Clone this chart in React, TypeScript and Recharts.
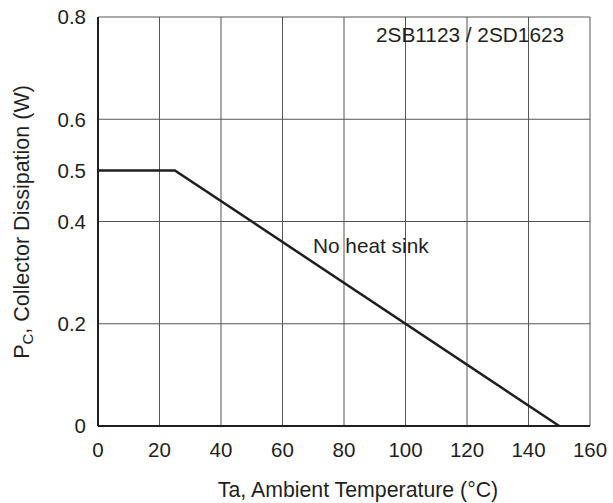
import { CartesianGrid, Line, LineChart, ReferenceLine, XAxis, YAxis } from "recharts";

const temps = [0, 25, 150];
const power = [0.5, 0.5, 0];

const xTicks = [0, 20, 40, 60, 80, 100, 120, 140, 160];
const yTicks = [0, 0.2, 0.4, 0.5, 0.6, 0.8];
const xGrid = [20, 40, 60, 80, 100, 120, 140];
const yGrid = [0.2, 0.4, 0.6];

const data = temps.map((t, i) => ({ ta: t, pc: power[i] }));

const font = "'Liberation Sans', Arial, Helvetica, sans-serif";
const ink = "#1f1f1f";
const fs = 20.5;

const App = () => {
  return (
    <div style={{ position: "absolute", left: 0, top: 0 }}>
      <LineChart width={613} height={503} data={data} margin={{ top: 17, right: 23, left: 0, bottom: 0 }}>
        <CartesianGrid
          stroke="#555"
          strokeWidth={1}
          horizontalValues={yGrid}
          verticalValues={xGrid}
        />
        <ReferenceLine y={0.8} stroke="#555" strokeWidth={1} />
        <ReferenceLine x={160} stroke="#555" strokeWidth={1} />
        <XAxis
          dataKey="ta"
          type="number"
          domain={[0, 160]}
          ticks={xTicks}
          height={77}
          tickLine={false}
          tickMargin={10}
          axisLine={{ stroke: ink, strokeWidth: 2 }}
          tick={{ fontSize: fs, fill: ink, fontFamily: font }}
          interval={0}
        />
        <YAxis
          type="number"
          domain={[0, 0.8]}
          ticks={yTicks}
          width={98}
          tickLine={false}
          tickMargin={6}
          axisLine={{ stroke: ink, strokeWidth: 2 }}
          tick={{ fontSize: fs, fill: ink, fontFamily: font }}
          interval={0}
          tickFormatter={(v: number) => (v === 0 ? "0" : String(v))}
        />
        <Line
          dataKey="pc"
          type="linear"
          stroke={ink}
          strokeWidth={2.5}
          dot={false}
          isAnimationActive={false}
        />
        <text x={376} y={42} fontSize={20.8} fill={ink} fontFamily={font}>
          2SB1123 / 2SD1623
        </text>
        <text x={313} y={253} fontSize={20.8} fill={ink} fontFamily={font}>
          No heat sink
        </text>
        <text x={358} y={497} textAnchor="middle" fontSize={21.3} fill={ink} fontFamily={font}>
          Ta, Ambient Temperature (°C)
        </text>
        <text
          transform="translate(29, 222) rotate(-90)"
          textAnchor="middle"
          fontSize={21.5}
          fill={ink}
          fontFamily={font}
        >
          P<tspan fontSize={15} dy={4}>C</tspan>
          <tspan dy={-4}>, Collector Dissipation (W)</tspan>
        </text>
      </LineChart>
    </div>
  );
};

export default App;
